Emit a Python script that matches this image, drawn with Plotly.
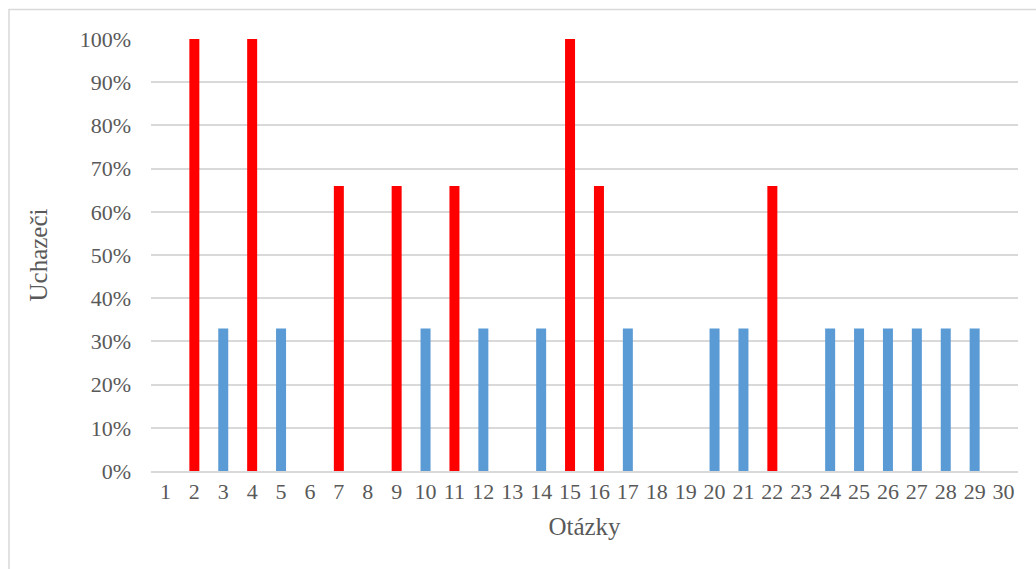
import plotly.graph_objects as go

# Question numbers and the share of candidates for each question (percent)
questions = [str(i) for i in range(1, 31)]
share = [0, 100, 33, 100, 33, 0, 66, 0, 66, 33,
         66, 33, 0, 33, 100, 66, 33, 0, 0, 33,
         33, 66, 0, 33, 33, 33, 33, 33, 33, 0]

RED = "#FF0000"
BLUE = "#5B9BD5"
bar_colors = [RED if v > 50 else BLUE for v in share]

FONT = "Liberation Serif, Times New Roman, serif"
TEXT = "#595959"
GRID = "#D9D9D9"

fig = go.Figure(
    go.Bar(
        x=questions,
        y=share,
        marker=dict(color=bar_colors, line=dict(width=0)),
        hoverinfo="x+y",
    )
)

fig.update_layout(
    width=1036,
    height=569,
    margin=dict(l=151, r=18, t=39, b=98),
    paper_bgcolor="white",
    plot_bgcolor="white",
    bargap=0.654,
    showlegend=False,
    font=dict(family=FONT, color=TEXT, size=22),
    shapes=[
        dict(
            type="rect", xref="paper", yref="paper",
            x0=-0.1638, x1=1.2, y0=-0.4, y1=1.0683,
            line=dict(color=GRID, width=1.5), fillcolor="rgba(0,0,0,0)",
            layer="below",
        )
    ],
)

fig.update_xaxes(
    type="category",
    showgrid=False,
    showline=True,
    linecolor=GRID,
    linewidth=1.5,
    ticks="",
    tickfont=dict(family=FONT, size=22, color=TEXT),
    title=dict(text="Otázky", font=dict(family=FONT, size=25, color=TEXT), standoff=14),
)

fig.update_yaxes(
    range=[0, 100],
    dtick=10,
    ticksuffix="%",
    showgrid=True,
    gridcolor=GRID,
    gridwidth=1.5,
    zeroline=False,
    ticks="",
    ticklabelstandoff=19,
    tickfont=dict(family=FONT, size=22, color=TEXT),
    title=dict(text="Uchazeči", font=dict(family=FONT, size=25, color=TEXT), standoff=24),
)

fig.write_html("out.html")
